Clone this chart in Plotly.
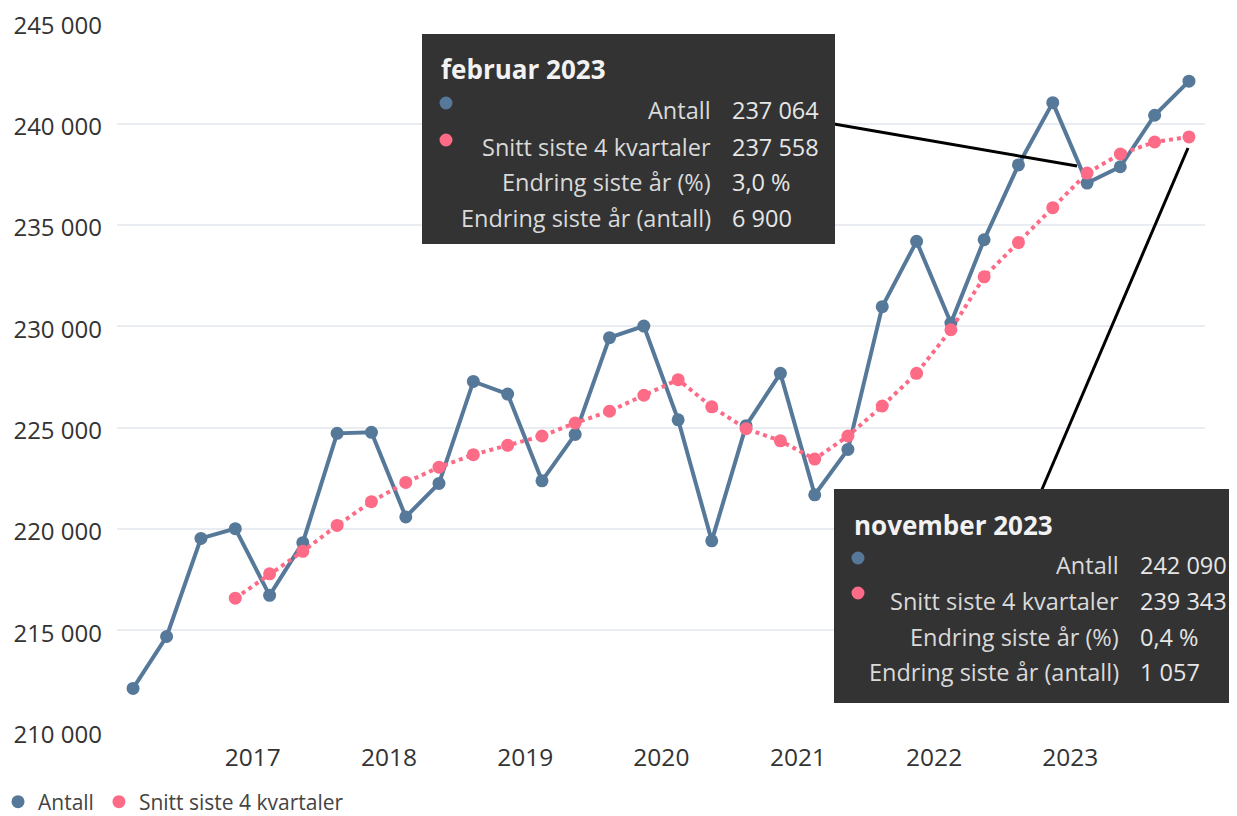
import plotly.graph_objects as go

# ---- data ----
dates = [
    "2016-02-15", "2016-05-15", "2016-08-15", "2016-11-15",
    "2017-02-15", "2017-05-15", "2017-08-15", "2017-11-15",
    "2018-02-15", "2018-05-15", "2018-08-15", "2018-11-15",
    "2019-02-15", "2019-05-15", "2019-08-15", "2019-11-15",
    "2020-02-15", "2020-05-15", "2020-08-15", "2020-11-15",
    "2021-02-15", "2021-05-15", "2021-08-15", "2021-11-15",
    "2022-02-15", "2022-05-15", "2022-08-15", "2022-11-15",
    "2023-02-15", "2023-05-15", "2023-08-15", "2023-11-15",
]
antall = [
    212140, 214700, 219540, 220020,
    216730, 219330, 224720, 224770,
    220600, 222250, 227280, 226660,
    222380, 224670, 229440, 230010,
    225390, 219420, 225100, 227680,
    221690, 223930, 230970, 234190,
    230164, 234270, 237960, 241033,
    237064, 237870, 240410, 242090,
]
snitt = [
    None, None, None, 216590,
    217790, 218900, 220180, 221350,
    222300, 223050, 223670, 224130,
    224590, 225230, 225810, 226600,
    227370, 226030, 224950, 224350,
    223450, 224590, 226070, 227680,
    229830, 232440, 234130, 235850,
    237558, 238500, 239090, 239343,
]
year_ticks = ["2017-01-01", "2018-01-01", "2019-01-01", "2020-01-01",
              "2021-01-01", "2022-01-01", "2023-01-01"]
year_labels = ["2017", "2018", "2019", "2020", "2021", "2022", "2023"]

series_names = ["Antall", "Snitt siste 4 kvartaler"]
tip1_title = "februar 2023"
tip1_labels = ["Antall", "Snitt siste 4 kvartaler", "Endring siste år (%)", "Endring siste år (antall)"]
tip1_values = ["237 064", "237 558", "3,0 %", "6 900"]
tip2_title = "november 2023"
tip2_labels = ["Antall", "Snitt siste 4 kvartaler", "Endring siste år (%)", "Endring siste år (antall)"]
tip2_values = ["242 090", "239 343", "0,4 %", "1 057"]

BLUE = "#56799A"
PINK = "#FD6B87"
FONT = "Open Sans"
OFF = 8  # page body margin
W, H = 1237 - OFF, 816 - OFF
PL, PT, PWID, PHGT = 117, 22, 1088, 710   # plot area in screen pixels
L, T = PL - OFF, PT - OFF
R, B = W - L - PWID, H - T - PHGT


def px(x):
    return (x - PL) / PWID


def py(y):
    return (PT + PHGT - y) / PHGT


fig = go.Figure()
fig.add_trace(go.Scatter(
    x=dates, y=antall, name=series_names[0], mode="lines+markers",
    line=dict(color=BLUE, width=4), marker=dict(color=BLUE, size=13),
    showlegend=False,
))
fig.add_trace(go.Scatter(
    x=dates, y=snitt, name=series_names[1], mode="lines+markers",
    line=dict(color=PINK, width=4, dash="dot"), marker=dict(color=PINK, size=13),
    showlegend=False,
))
# legend entries (circle only)
for nm, col in zip(series_names, [BLUE, PINK]):
    fig.add_trace(go.Scatter(x=[None], y=[None], name=nm, mode="markers",
                             marker=dict(color=col, size=13), showlegend=True))

shapes = []
annotations = []


def tooltip(x0, y0, x1, y1, title, labels, values, tx, ty, rows_y, lab_r, val_l, mk_x, mk_y):
    shapes.append(dict(type="rect", xref="paper", yref="paper",
                       x0=px(x0), x1=px(x1), y0=py(y1), y1=py(y0),
                       fillcolor="#333333", line=dict(width=0), layer="above"))
    annotations.append(dict(xref="paper", yref="paper", x=px(tx), y=py(ty),
                            xanchor="left", yanchor="middle", showarrow=False,
                            text="<b>" + title + "</b>",
                            font=dict(family=FONT, size=26, color="#F2F2F2")))
    for lab, val, ry in zip(labels, values, rows_y):
        annotations.append(dict(xref="paper", yref="paper", x=px(lab_r), y=py(ry),
                                xanchor="right", yanchor="middle", showarrow=False,
                                text=lab, font=dict(family=FONT, size=23.5, color="#DADADA")))
        annotations.append(dict(xref="paper", yref="paper", x=px(val_l), y=py(ry),
                                xanchor="left", yanchor="middle", showarrow=False,
                                text=val, font=dict(family=FONT, size=23.5, color="#E6E6E6")))
    for col, my in zip([BLUE, PINK], mk_y):
        shapes.append(dict(type="circle", xref="paper", yref="paper",
                           xsizemode="pixel", ysizemode="pixel",
                           xanchor=px(mk_x), yanchor=py(my),
                           x0=-6.5, x1=6.5, y0=-6.5, y1=6.5,
                           fillcolor=col, line=dict(width=0), layer="above"))


# connector lines
shapes.append(dict(type="line", xref="paper", yref="paper",
                   x0=px(834), y0=py(124), x1=px(1077), y1=py(166),
                   line=dict(color="black", width=3), layer="above"))
shapes.append(dict(type="line", xref="paper", yref="paper",
                   x0=px(1040), y0=py(494), x1=px(1188), y1=py(148),
                   line=dict(color="black", width=3), layer="above"))

tooltip(422, 34, 835, 244, tip1_title, tip1_labels, tip1_values,
        439, 69, [110, 147, 182, 218], 713, 730, 446, [103, 140])
tooltip(834, 489, 1240, 703, tip2_title, tip2_labels, tip2_values,
        852, 525, [565, 601, 637, 672], 1121, 1138, 858, [558, 593])

fig.update_layout(
    width=W, height=H,
    margin=dict(l=L, r=R, t=T, b=B, autoexpand=False),
    paper_bgcolor="white", plot_bgcolor="white",
    separators=", ",
    font=dict(family=FONT, color="#333333"),
    hovermode=False,
    shapes=shapes, annotations=annotations,
    legend=dict(orientation="h", xref="paper", yref="paper",
                x=px(-2), y=py(802), xanchor="left", yanchor="middle",
                font=dict(family=FONT, size=21, color="#444444"),
                itemwidth=30, tracegroupgap=0, bgcolor="rgba(0,0,0,0)"),
    showlegend=True,
)
fig.update_xaxes(
    type="date", range=["2016-01-03", "2023-12-28"],
    tickvals=year_ticks, ticktext=year_labels,
    showgrid=False, zeroline=False, showline=False, automargin=False,
    tickfont=dict(family=FONT, size=24.5, color="#333333"),
    ticks="", ticklabelstandoff=8, ticklabeloverflow="allow",
)
fig.update_yaxes(
    range=[209990, 245010], dtick=5000, tickformat=",d",
    showgrid=True, gridcolor="#E9EDF1", gridwidth=1.5,
    zeroline=False, showline=False, automargin=False,
    tickfont=dict(family=FONT, size=24, color="#333333"),
    ticks="", ticklabelstandoff=14, ticklabelshift=3, ticklabeloverflow="allow",
)

fig.write_html("out.html")
